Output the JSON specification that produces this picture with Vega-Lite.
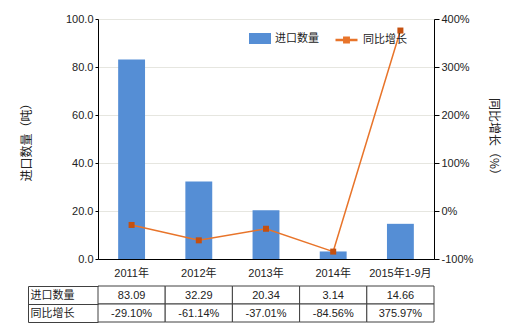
{
  "$schema": "https://vega.github.io/schema/vega-lite/v6.json",
  "padding": {"left": 20, "top": 13, "right": 5, "bottom": 5},
  "spacing": 2,
  "config": {
    "view": {"stroke": null},
    "font": "Liberation Sans, Noto Sans CJK SC",
    "axis": {"labelFont": "Liberation Sans, Noto Sans CJK SC", "titleFont": "Noto Sans CJK SC", "labelColor": "#222", "titleColor": "#222", "labelFontSize": 11, "titleFontSize": 12, "titleFontWeight": "normal"},
    "legend": {"labelFont": "Noto Sans CJK SC", "labelFontSize": 11, "labelColor": "#222"},
    "text": {"font": "Liberation Sans, Noto Sans CJK SC", "fontSize": 11, "color": "#222"}
  },
  "datasets": {
    "main": [
      {"year": "2011年", "qty": 83.09, "yoy": -29.10},
      {"year": "2012年", "qty": 32.29, "yoy": -61.14},
      {"year": "2013年", "qty": 20.34, "yoy": -37.01},
      {"year": "2014年", "qty": 3.14, "yoy": -84.56},
      {"year": "2015年1-9月", "qty": 14.66, "yoy": 375.97}
    ],
    "table": [
      {"col": "2011年", "row": "进口数量", "text": "83.09"},
      {"col": "2012年", "row": "进口数量", "text": "32.29"},
      {"col": "2013年", "row": "进口数量", "text": "20.34"},
      {"col": "2014年", "row": "进口数量", "text": "3.14"},
      {"col": "2015年1-9月", "row": "进口数量", "text": "14.66"},
      {"col": "2011年", "row": "同比增长", "text": "-29.10%"},
      {"col": "2012年", "row": "同比增长", "text": "-61.14%"},
      {"col": "2013年", "row": "同比增长", "text": "-37.01%"},
      {"col": "2014年", "row": "同比增长", "text": "-84.56%"},
      {"col": "2015年1-9月", "row": "同比增长", "text": "375.97%"}
    ]
  },
  "resolve": {"scale": {"x": "independent", "y": "independent"}},
  "vconcat": [
    {
      "width": 336,
      "height": 240,
      "data": {"name": "main"},
      "resolve": {"scale": {"y": "independent"}},
      "encoding": {
        "x": {"field": "year", "type": "nominal", "sort": null,
              "scale": {"paddingInner": 0.6, "paddingOuter": 0.3},
              "axis": {"title": null, "labelAngle": 0, "ticks": false, "labelPadding": 8, "domainColor": "#000", "grid": false}}
      },
      "layer": [
        {
          "mark": {"type": "bar"},
          "encoding": {
            "y": {"field": "qty", "type": "quantitative", "scale": {"domain": [0, 100], "nice": false},
                  "axis": {"title": "进口数量（吨）", "values": [0, 20, 40, 60, 80, 100], "format": ".1f", "tickSize": 3, "tickColor": "#000", "domainColor": "#000",
                           "grid": true, "gridColor": "#e6e6e0", "minExtent": 40, "maxExtent": 40, "titlePadding": 25}},
            "fill": {"datum": "进口数量", "type": "nominal",
                     "scale": {"domain": ["进口数量"], "range": ["#558ed5"]},
                     "legend": {"title": null, "orient": "none", "legendX": 151, "legendY": 8.5, "symbolType": "M-1,-0.5H1V0.5H-1Z", "symbolSize": 484, "symbolStrokeWidth": 0}}
          }
        },
        {
          "layer": [
            {
              "mark": {"type": "line", "strokeWidth": 1.5},
              "encoding": {
                "y": {"field": "yoy", "type": "quantitative", "scale": {"domain": [-100, 400], "nice": false},
                      "axis": {"title": "同比增长（%）", "orient": "right", "titleAngle": 90, "values": [-100, 0, 100, 200, 300, 400], "labelExpr": "datum.value + '%'",
                               "tickSize": 5, "tickColor": "#000", "domainColor": "#000", "grid": false, "titlePadding": 14}},
                "stroke": {"datum": "同比增长", "type": "nominal",
                           "scale": {"domain": ["同比增长"], "range": ["#e8742a"]},
                           "legend": {"title": null, "orient": "none", "legendX": 236, "legendY": 8.5, "symbolType": "M-1,0H1M-0.2,-0.2H0.2V0.2H-0.2Z", "symbolSize": 484, "symbolStrokeWidth": 2.5, "symbolStrokeColor": "#c5500f", "symbolFillColor": "#c5500f"}}
              }
            },
            {
              "mark": {"type": "point", "shape": "square", "filled": true, "size": 36, "color": "#c5500f", "opacity": 1},
              "encoding": {
                "y": {"field": "yoy", "type": "quantitative"}
              }
            }
          ]
        }
      ]
    },
    {
      "width": 336,
      "height": 36,
      "data": {"name": "table"},
      "resolve": {"scale": {"y": "independent"}},
      "encoding": {
        "x": {"field": "col", "type": "nominal", "sort": ["2011年", "2012年", "2013年", "2014年", "2015年1-9月"],
              "scale": {"paddingInner": 0, "paddingOuter": 0}, "axis": null}
      },
      "layer": [
        {
          "mark": {"type": "rect", "fill": "#fff", "stroke": "#404040", "strokeWidth": 1},
          "encoding": {
            "y": {"field": "row", "type": "nominal", "sort": ["进口数量", "同比增长"],
                  "scale": {"paddingInner": 0, "paddingOuter": 0},
                  "axis": {"title": null, "orient": "left", "domain": false, "grid": false, "ticks": true, "tickBand": "extent", "tickSize": 70, "tickColor": "#404040",
                           "labels": true, "labelAlign": "left", "labelPadding": -2, "labelFont": "Noto Sans CJK SC", "labelFontSize": 11, "labelColor": "#222"}}
          }
        },
        {
          "mark": {"type": "text", "align": "center", "baseline": "middle", "dy": 1},
          "encoding": {
            "y": {"field": "row", "type": "nominal", "sort": ["进口数量", "同比增长"],
                  "scale": {"paddingInner": 0, "paddingOuter": 0},
                  "axis": {"title": null, "orient": "left", "domain": true, "domainColor": "#404040", "labels": false, "ticks": false, "grid": false, "offset": 70}},
            "text": {"field": "text"}
          }
        }
      ]
    }
  ]
}
